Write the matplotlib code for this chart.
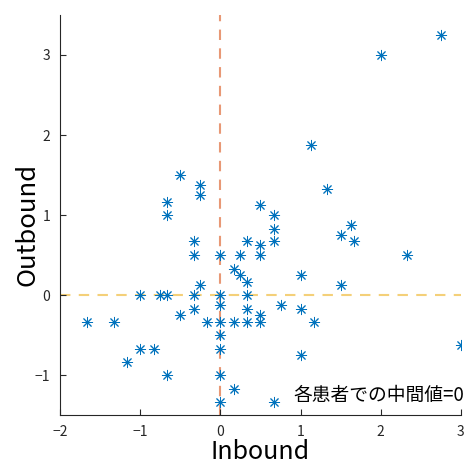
import matplotlib.pyplot as plt
import numpy as np

plt.rcParams['font.family'] = ['Noto Sans CJK JP', 'DejaVu Sans']

# inbound / outbound values
inbound = [2.75, 2.0, 1.125, 1.33, 1.625, 1.5, 1.67, 2.33, 1.0, 1.5,
           -0.5, -0.25, -0.25, -0.67, -0.67, 0.5, 0.67, 0.67, 0.67, -0.33,
           0.33, 0.5, -0.33, 0.0, 0.25, 0.5, 0.17, 0.25, 0.33, -0.25,
           -1.0, -0.75, -0.67, -0.33, 0.0, 0.33, 0.0, 0.75, -0.33, 0.33,
           1.0, -0.5, 0.5, -1.67, -1.33, -0.17, 0.0, 0.17, 0.33, 0.5,
           1.17, 0.0, -1.0, -0.83, 0.0, 1.0, 3.0, -1.17, -0.67, 0.0,
           0.17, 0.0, 0.67]
outbound = [3.25, 3.0, 1.875, 1.33, 0.875, 0.75, 0.67, 0.5, 0.25, 0.125,
            1.5, 1.375, 1.25, 1.167, 1.0, 1.125, 1.0, 0.83, 0.67, 0.67,
            0.67, 0.625, 0.5, 0.5, 0.5, 0.5, 0.33, 0.25, 0.17, 0.125,
            0.0, 0.0, 0.0, 0.0, 0.0, 0.0, -0.125, -0.125, -0.17, -0.17,
            -0.17, -0.25, -0.25, -0.33, -0.33, -0.33, -0.33, -0.33, -0.33, -0.33,
            -0.33, -0.5, -0.67, -0.67, -0.67, -0.75, -0.625, -0.83, -1.0, -1.0,
            -1.17, -1.33, -1.33]

xlim = (-2, 3)
ylim = (-1.5, 3.5)

fig = plt.figure(figsize=(4.66, 4.66), dpi=100)
ax = fig.add_axes([0.129, 0.109, 0.86, 0.859])

ax.plot([0, 0], ylim, linestyle=(0, (5, 4)), color='#D95319', alpha=0.6, lw=1.5, zorder=1)
ax.plot(xlim, [0, 0], linestyle=(0, (5, 4)), color='#EDB120', alpha=0.6, lw=1.5, zorder=1)
ax.scatter(inbound, outbound, marker=(8, 2, 0), s=55, color='#0072BD', linewidths=0.7, zorder=2)

ax.text(0.91, -1.25, '各患者での中間値=0', fontsize=13.5, va='center', ha='left', clip_on=False)

ax.set_xlim(xlim)
ax.set_ylim(ylim)
ax.set_xticks([-2, -1, 0, 1, 2, 3])
ax.set_yticks([-1, 0, 1, 2, 3])
ax.spines['top'].set_visible(False)
ax.spines['right'].set_visible(False)
for s in ['left', 'bottom']:
    ax.spines[s].set_color('#262626')
    ax.spines[s].set_linewidth(0.8)
ax.tick_params(direction='in', length=4, width=0.8, colors='#262626', labelsize=10, pad=7)
ax.set_xlabel('Inbound', fontsize=18, labelpad=0)
ax.set_ylabel('Outbound', fontsize=18.5)
ax.yaxis.set_label_coords(-0.05, 0.4775)

fig.savefig('out.png', dpi=100)
